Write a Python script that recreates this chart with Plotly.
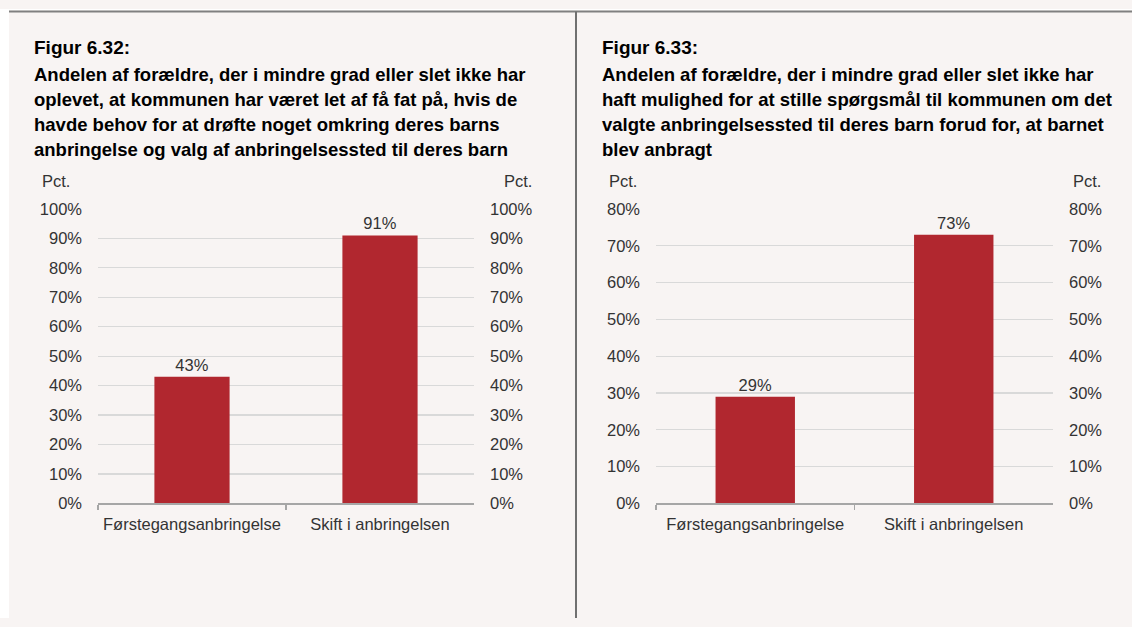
import plotly.graph_objects as go

W, H = 1132, 627

categories = ["Førstegangsanbringelse", "Skift i anbringelsen"]
values_632 = [43, 91]
values_633 = [29, 73]

title_632 = [
    "Figur 6.32:",
    "Andelen af forældre, der i mindre grad eller slet ikke har",
    "oplevet, at kommunen har været let af få fat på, hvis de",
    "havde behov for at drøfte noget omkring deres barns",
    "anbringelse og valg af anbringelsessted til deres barn",
]
title_633 = [
    "Figur 6.33:",
    "Andelen af forældre, der i mindre grad eller slet ikke har",
    "haft mulighed for at stille spørgsmål til kommunen om det",
    "valgte anbringelsessted til deres barn forud for, at barnet",
    "blev anbragt",
]
unit_label = "Pct."

FONT = "Liberation Sans, Arial, sans-serif"
BAR = "#B1272F"
BG = "#F8F4F3"
TXT = "#333333"
GRID = "#D9D9D9"
AXL = "#A6A6A6"

# the page is photographed with the figure area occupying ~608px vertically,
# starting ~9px down; map target pixel rows to paper fractions accordingly
TOP_OFF = 9.4
REND_H = 608.0


def px(x):
    return x / W


def py(y):
    return 1 - (y - TOP_OFF) / REND_H


fig = go.Figure()

fig.add_trace(go.Bar(x=categories, y=values_632, xaxis="x", yaxis="y",
                     marker=dict(color=BAR, line=dict(width=0)), width=0.4,
                     text=values_632, texttemplate="%{y:.0f}%", textposition="outside",
                     textfont=dict(size=16.5, color=TXT, family=FONT),
                     cliponaxis=False, showlegend=False, hoverinfo="skip"))
fig.add_trace(go.Scatter(x=categories, y=values_632, xaxis="x", yaxis="y2",
                         mode="none", showlegend=False, hoverinfo="skip"))
fig.add_trace(go.Bar(x=categories, y=values_633, xaxis="x2", yaxis="y3",
                     marker=dict(color=BAR, line=dict(width=0)), width=0.4,
                     text=values_633, texttemplate="%{y:.0f}%", textposition="outside",
                     textfont=dict(size=16.5, color=TXT, family=FONT),
                     cliponaxis=False, showlegend=False, hoverinfo="skip"))
fig.add_trace(go.Scatter(x=categories, y=values_633, xaxis="x2", yaxis="y4",
                         mode="none", showlegend=False, hoverinfo="skip"))

ydom = [py(503), py(209)]
tickfont = dict(size=16.5, color=TXT, family=FONT)

xcommon = dict(type="category", categoryorder="array", categoryarray=categories,
               tickson="boundaries", ticks="outside", ticklen=5, tickcolor=AXL, tickwidth=1.5,
               showline=True, linecolor=AXL, linewidth=1.5, showgrid=False,
               tickfont=tickfont, ticklabelstandoff=5, fixedrange=True)

def yleft(rng, dom_anchor):
    return dict(domain=ydom, range=rng, dtick=10, ticksuffix="%", showgrid=True,
                gridcolor=GRID, gridwidth=1.2, zeroline=False, showline=False, ticks="",
                tickfont=tickfont, ticklabelstandoff=15, anchor=dom_anchor, fixedrange=True)

def yright(rng, dom_anchor, over):
    return dict(domain=ydom, range=rng, dtick=10, ticksuffix="%", showgrid=False,
                zeroline=False, showline=False, ticks="", side="right", overlaying=over,
                tickfont=tickfont, ticklabelstandoff=15, anchor=dom_anchor, fixedrange=True)

fig.update_layout(
    width=W, height=H, autosize=False,
    margin=dict(l=0, r=0, t=0, b=0, pad=0),
    paper_bgcolor=BG, plot_bgcolor="rgba(0,0,0,0)",
    font=dict(family=FONT, color=TXT),
    xaxis=dict(domain=[px(98), px(474)], anchor="y", **xcommon),
    xaxis2=dict(domain=[px(656), px(1053)], anchor="y3", **xcommon),
    yaxis=yleft([0, 100], "x"),
    yaxis2=yright([0, 100], "x", "y"),
    yaxis3=yleft([0, 80], "x2"),
    yaxis4=yright([0, 80], "x2", "y3"),
    bargap=0.6,
)

shapes = [
    dict(type="rect", xref="paper", yref="paper", x0=0, x1=1, y0=py(11), y1=1,
         fillcolor="white", line=dict(width=0), layer="below"),
    dict(type="rect", xref="paper", yref="paper", x0=0, x1=px(9), y0=0, y1=1,
         fillcolor="white", line=dict(width=0), layer="below"),
    dict(type="line", xref="paper", yref="paper", x0=px(9), x1=1, y0=py(12), y1=py(12),
         line=dict(color="#808080", width=2)),
    dict(type="line", xref="paper", yref="paper", x0=px(576), x1=px(576), y0=0, y1=py(12),
         line=dict(color="#707070", width=2)),
]
fig.update_layout(shapes=shapes)

annotations = []
line_ys = [47, 74, 99, 124, 149]
for lines, x0 in ((title_632, 32), (title_633, 600)):
    for i, t in enumerate(lines):
        annotations.append(dict(
            text="<b>" + t + "</b>", xref="paper", yref="paper", x=px(x0), y=py(line_ys[i] + 1),
            xanchor="left", yanchor="middle", showarrow=False,
            font=dict(size=19 if i == 0 else 18.5, color="#000000", family=FONT),
        ))

for x0, anchor in ((40, "left"), (534, "right"), (607, "left"), (1103, "right")):
    annotations.append(dict(
        text=unit_label, xref="paper", yref="paper", x=px(x0), y=py(181),
        xanchor=anchor, yanchor="middle", showarrow=False,
        font=dict(size=16.5, color=TXT, family=FONT),
    ))
fig.update_layout(annotations=annotations)

post = (
    "document.documentElement.style.margin='0';"
    "document.documentElement.style.padding='0';"
    "document.documentElement.style.overflow='hidden';"
    "document.body.style.margin='0';"
    "document.body.style.padding='0';"
    "document.body.style.overflow='hidden';"
    "var d=document.getElementById('{plot_id}');"
    "d.style.position='fixed';d.style.top='0px';d.style.left='0px';"
)

fig.write_html("out.html",
               config={"displayModeBar": False, "staticPlot": True, "responsive": False},
               post_script=post)
